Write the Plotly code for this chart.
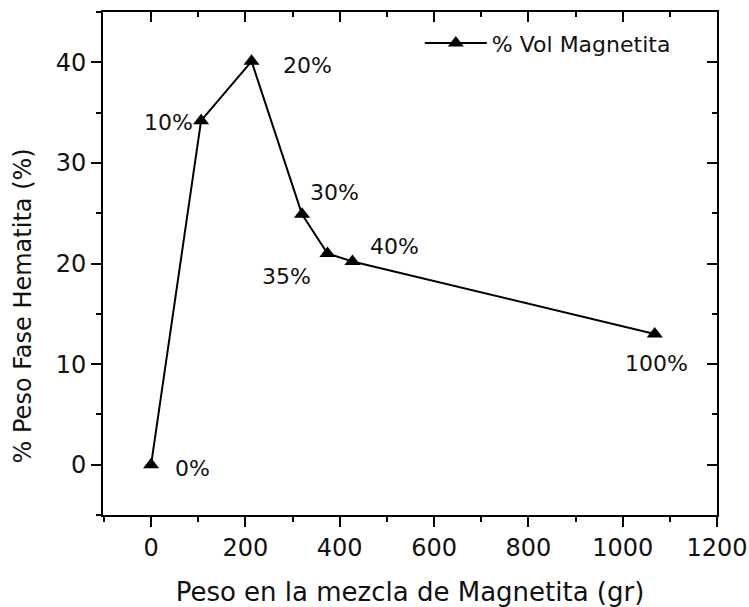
import plotly.graph_objects as go

# Magnetite weight in the blend vs. hematite phase weight fraction
peso_magnetita = [0, 106, 213, 320, 374, 427, 1068]
peso_hematita = [0, 34.2, 40.1, 24.9, 21.0, 20.2, 13.0]
vol_magnetita = ["0%", "10%", "20%", "30%", "35%", "40%", "100%"]

x_ticks = [0, 200, 400, 600, 800, 1000, 1200]
y_ticks = [0, 10, 20, 30, 40]

# pixel offsets of each point label from its marker
label_dx = [41, -33, 56, 32, -41, 42, 2]
label_dy = [-4, -2, -4, 22, -23, 15, -30]

FONT = "DejaVu Sans"
INK = "#111111"
X_RANGE = [-102, 1200]
Y_RANGE = [-5, 45]

fig = go.Figure()

fig.add_trace(go.Scatter(
    x=peso_magnetita, y=peso_hematita,
    mode="lines+markers",
    name="% Vol Magnetita",
    line=dict(color="black", width=2),
    marker=dict(symbol="triangle-up", size=14, color="black"),
    cliponaxis=False,
))

# companion trace so the mirrored top/right axes are drawn
fig.add_trace(go.Scatter(
    x=peso_magnetita, y=peso_hematita, xaxis="x2", yaxis="y2",
    mode="lines", line=dict(width=0, color="rgba(0,0,0,0)"),
    showlegend=False, hoverinfo="skip",
))

for xv, yv, txt, dx, dy in zip(peso_magnetita, peso_hematita, vol_magnetita,
                               label_dx, label_dy):
    fig.add_annotation(
        x=xv, y=yv, xref="x", yref="y", text=txt, showarrow=False,
        xshift=dx, yshift=dy, font=dict(family=FONT, size=22, color=INK),
    )

# y-axis title, set lower than the axis midpoint
fig.add_annotation(
    x=-0.13, y=0.415, xref="paper", yref="paper",
    text="% Peso Fase Hematita (%)", textangle=-90, showarrow=False,
    xanchor="center", yanchor="middle",
    font=dict(family=FONT, size=24, color=INK),
)

axis_common = dict(
    showline=True, linecolor="black", linewidth=2,
    showgrid=False, zeroline=False,
    tickcolor="black", tickwidth=1.5, automargin=False,
)

fig.update_layout(
    width=749, height=607,
    margin=dict(l=103, r=32, t=12, b=92),
    paper_bgcolor="white", plot_bgcolor="white",
    font=dict(family=FONT, color=INK),
    xaxis=dict(
        **axis_common, range=X_RANGE, tickvals=x_ticks,
        ticks="outside", ticklen=10,
        minor=dict(dtick=100, tick0=0, ticks="outside", ticklen=5,
                   tickcolor="black", tickwidth=1.5),
        tickfont=dict(family=FONT, size=24, color=INK),
        title=dict(text="Peso en la mezcla de Magnetita (gr)",
                   font=dict(family=FONT, size=26, color=INK), standoff=22),
    ),
    yaxis=dict(
        **axis_common, range=Y_RANGE, tickvals=y_ticks,
        ticks="outside", ticklen=10,
        minor=dict(dtick=5, tick0=0, ticks="outside", ticklen=5,
                   tickcolor="black", tickwidth=1.5),
        tickfont=dict(family=FONT, size=24, color=INK),
    ),
    xaxis2=dict(
        **axis_common, range=X_RANGE, tickvals=x_ticks, overlaying="x",
        side="top", anchor="y2", ticks="inside", ticklen=10,
        showticklabels=False,
        minor=dict(dtick=100, tick0=0, ticks="inside", ticklen=5,
                   tickcolor="black", tickwidth=1.5),
    ),
    yaxis2=dict(
        **axis_common, range=Y_RANGE, tickvals=y_ticks, overlaying="y",
        side="right", anchor="x2", ticks="inside", ticklen=10,
        showticklabels=False,
        minor=dict(dtick=5, tick0=0, ticks="inside", ticklen=5,
                   tickcolor="black", tickwidth=1.5),
    ),
    legend=dict(
        x=0.516, y=0.938, xanchor="left", yanchor="middle",
        bgcolor="rgba(0,0,0,0)", itemwidth=62,
        font=dict(family=FONT, size=22, color=INK),
    ),
    showlegend=True,
)

fig.write_html("out.html")
